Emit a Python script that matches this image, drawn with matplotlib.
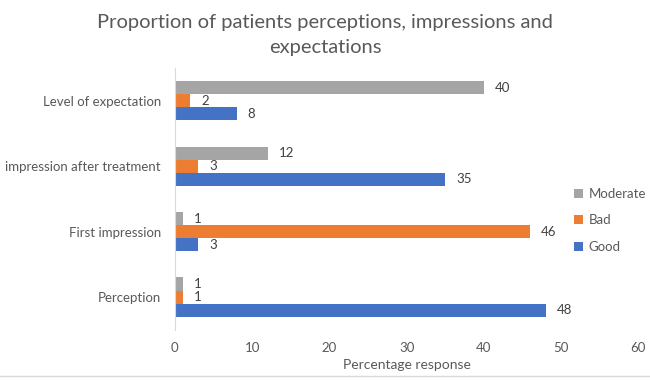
import numpy as np
import matplotlib
matplotlib.use("Agg")
import matplotlib.pyplot as plt
from matplotlib.lines import Line2D

categorias = ["Perception", "First impression", "impression after treatment", "Level of expectation"]
good = [48, 3, 35, 8]
bad = [1, 46, 3, 2]
moderate = [1, 1, 12, 40]

cor_texto = "#595959"
plt.rcParams["font.family"] = ["Lato", "DejaVu Sans"]

fig = plt.figure(figsize=(6.5, 3.8), dpi=100)
ax = fig.add_axes([0.269, 0.132, 0.713, 0.689])

y = np.arange(len(categorias))
h = 0.2
b1 = ax.barh(y - h, good, height=h, color="#4472C4", label="Good")
b2 = ax.barh(y, bad, height=h, color="#ED7D31", label="Bad")
b3 = ax.barh(y + h, moderate, height=h, color="#A5A5A5", label="Moderate")

for b in (b1, b2, b3):
    ax.bar_label(b, padding=8, fontsize=9.5, color="#404040")

ax.set_xlim(0, 60)
ax.set_ylim(-0.5, 3.5)
ax.set_xticks(range(0, 61, 10))
ax.set_yticks(y)
ax.set_yticklabels(categorias)
ax.tick_params(length=0, labelsize=9.5, colors=cor_texto)
ax.tick_params(axis="x", pad=9)
ax.tick_params(axis="y", pad=10)
for s in ["top", "right", "bottom"]:
    ax.spines[s].set_visible(False)
ax.spines["left"].set_color("#D9D9D9")

ax.set_xlabel("Percentage response", fontsize=10, color=cor_texto, labelpad=3)

fig.text(0.5, 1 - 35 / 380, "Proportion of patients perceptions, impressions and\nexpectations",
         fontsize=14.5, color=cor_texto, ha="center", va="center", linespacing=1.55)

handles, labels = ax.get_legend_handles_labels()
fig.legend(handles[::-1], labels[::-1], loc="center left", bbox_to_anchor=(0.865, 0.42),
           frameon=False, fontsize=9.5, labelcolor=cor_texto, handlelength=0.7,
           handleheight=0.7, handletextpad=0.4, labelspacing=1.1)

fig.add_artist(Line2D([0, 1], [1 - 376 / 380, 1 - 376 / 380], color="#D9D9D9", lw=1))

fig.savefig("out.png", dpi=100)
